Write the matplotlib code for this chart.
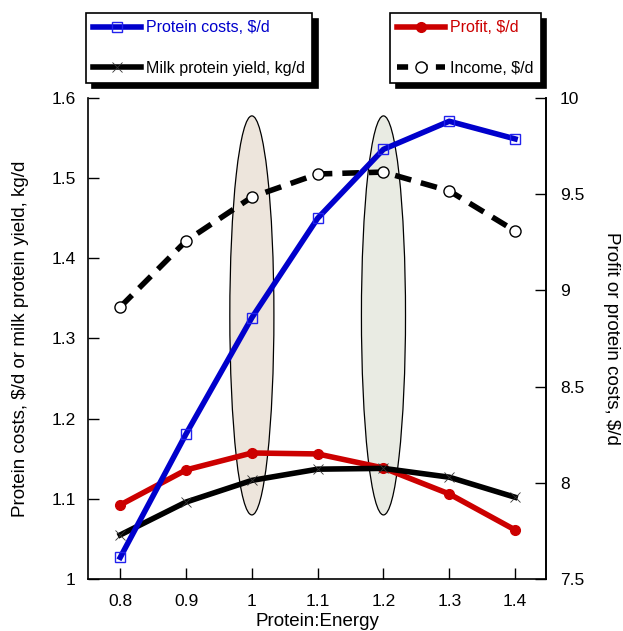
import matplotlib
matplotlib.use("Agg")
import matplotlib.pyplot as plt
from matplotlib.patches import Ellipse
from matplotlib.lines import Line2D

plt.rcParams['font.family'] = ['Liberation Sans', 'DejaVu Sans']
plt.rcParams['font.size'] = 12

# data
ratio = [0.8, 0.9, 1.0, 1.1, 1.2, 1.3, 1.4]
protein_costs = [1.027, 1.181, 1.326, 1.450, 1.536, 1.571, 1.549]
milk_yield = [1.055, 1.096, 1.123, 1.137, 1.138, 1.127, 1.102]
profit = [7.885, 8.067, 8.155, 8.150, 8.077, 7.942, 7.755]
income = [8.914, 9.257, 9.485, 9.605, 9.615, 9.517, 9.309]

left_ticks = [1, 1.1, 1.2, 1.3, 1.4, 1.5, 1.6]
left_ticklabels = ["1", "1.1", "1.2", "1.3", "1.4", "1.5", "1.6"]
right_ticks = [7.5, 8, 8.5, 9, 9.5, 10]
right_ticklabels = ["7.5", "8", "8.5", "9", "9.5", "10"]
x_ticks = [0.8, 0.9, 1.0, 1.1, 1.2, 1.3, 1.4]
x_ticklabels = ["0.8", "0.9", "1", "1.1", "1.2", "1.3", "1.4"]

# highlighted ratios (ellipses), in right-axis units
highlight_x = [1.0, 1.2]
highlight_colors = ["#ede5dc", "#e9ebe3"]

fig = plt.figure(figsize=(6.23, 6.31), dpi=100)
ax = fig.add_axes([0.1413, 0.0824, 0.7351, 0.7623])
ax2 = ax.twinx()

# ellipses + right-axis series go below, left-axis series on top
for hx, hc in zip(highlight_x, highlight_colors):
    ax2.add_patch(Ellipse((hx, 8.87), 0.067, 2.074, facecolor=hc,
                          edgecolor="black", linewidth=0.9, zorder=1))

ax2.plot(ratio, profit, color="#cc0000", lw=4, marker="o", ms=7,
         mfc="#cc0000", mec="#cc0000", zorder=3)
ax2.plot(ratio, income, color="black", lw=4, dashes=(3, 1.8),
         marker="o", ms=8, mfc="white", mec="black", mew=1, zorder=3)

ax.plot(ratio, milk_yield, color="black", lw=4, marker="x", ms=7,
        mew=0.6, mec="#333333", zorder=3)
ax.plot(ratio, protein_costs, color="#0000cc", lw=4, marker="s", ms=7,
        mfc="none", mec="#2222ee", mew=1, zorder=4)

ax.set_zorder(ax2.get_zorder() + 1)
ax.patch.set_visible(False)

ax.set_xlim(0.751, 1.447)
ax.set_ylim(1, 1.6)
ax2.set_ylim(7.5, 10)

ax.set_xticks(x_ticks)
ax.set_xticklabels(x_ticklabels)
ax.set_yticks(left_ticks)
ax.set_yticklabels(left_ticklabels)
ax2.set_yticks(right_ticks)
ax2.set_yticklabels(right_ticklabels)

for a in (ax, ax2):
    a.spines["top"].set_visible(False)
    for s in a.spines.values():
        s.set_linewidth(1.2)
    a.tick_params(direction="in", length=8, width=1, labelsize=12.5, pad=10)
ax.tick_params(axis="y", pad=9)
ax.tick_params(axis="x", pad=11)
ax2.spines["left"].set_visible(False)
ax2.spines["bottom"].set_visible(False)

ax.set_xlabel("Protein:Energy", fontsize=13.5, labelpad=3)
ax.set_ylabel("Protein costs, $/d or milk protein yield, kg/d", fontsize=13.5, labelpad=16)
ax2.set_ylabel("Profit or protein costs, $/d", fontsize=13.5, rotation=270, labelpad=26)

shadow = {"ox": 4, "oy": -4, "color": "black", "alpha": 1}
leg_kw = dict(frameon=True, fancybox=False, shadow=shadow, edgecolor="black",
              framealpha=1, handlelength=3.0, labelspacing=1.6, fontsize=11.5,
              borderpad=0.45, handletextpad=0.3, borderaxespad=0)

h1 = [Line2D([], [], color="#0000cc", lw=4, marker="s", ms=7, mfc="none", mec="#2222ee", mew=1),
      Line2D([], [], color="black", lw=4, marker="x", ms=7, mew=0.6, mec="#333333")]
leg1 = fig.legend(h1, ["Protein costs, $/d", "Milk protein yield, kg/d"],
                  loc="upper left", bbox_to_anchor=(86 / 623, 1 - 13 / 631), **leg_kw)
leg1.get_frame().set_linewidth(1.2)
leg1.get_texts()[0].set_color("#0000cc")

h2 = [Line2D([], [], color="#cc0000", lw=4, marker="o", ms=7, mfc="#cc0000", mec="#cc0000"),
      Line2D([], [], color="black", lw=4, dashes=(2, 1.5), marker="o", ms=8, mfc="white", mec="black", mew=1)]
leg2 = fig.legend(h2, ["Profit, $/d", "Income, $/d"],
                  loc="upper left", bbox_to_anchor=(390 / 623, 1 - 13 / 631), **leg_kw)
leg2.get_frame().set_linewidth(1.2)
leg2.get_texts()[0].set_color("#cc0000")

fig.savefig("out.png", dpi=100)
